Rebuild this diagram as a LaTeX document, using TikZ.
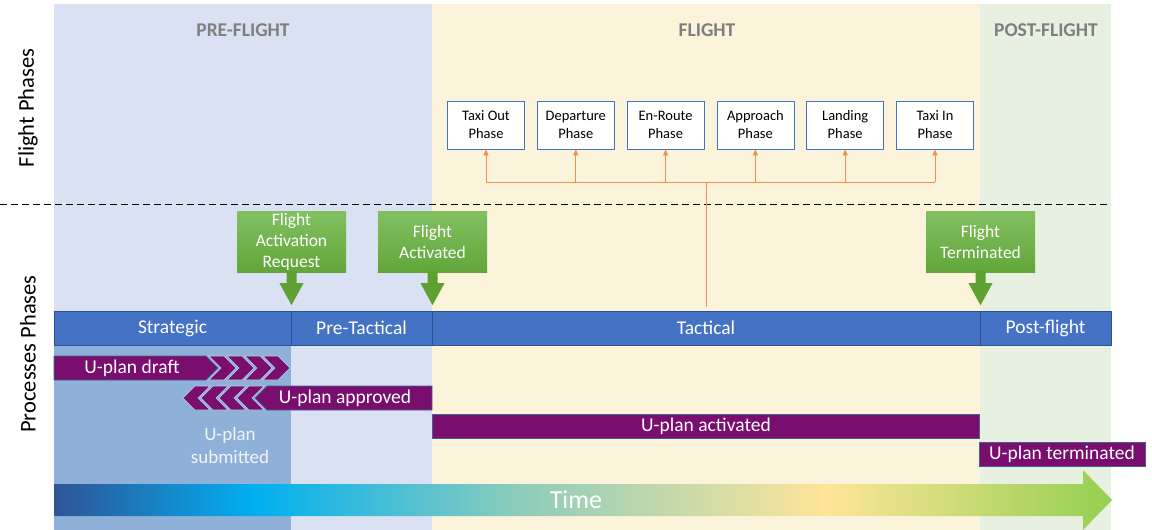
\documentclass[tikz,border=0pt]{standalone}
\usepackage{fontspec}
\setmainfont{Carlito}
\usetikzlibrary{arrows.meta,positioning,calc}
\definecolor{preBg}{HTML}{DAE1F2}
\definecolor{flightBg}{HTML}{FCF3DB}
\definecolor{postBg}{HTML}{E8F0E1}
\definecolor{stratBg}{HTML}{8FB0D8}
\definecolor{barBlue}{HTML}{4472C4}
\definecolor{barEdge}{HTML}{2F528F}
\definecolor{uplan}{HTML}{790E6F}
\definecolor{uplanEdge}{HTML}{41648F}
\definecolor{orangeLn}{HTML}{F0904E}
\definecolor{greenTop}{HTML}{82C061}
\definecolor{greenBot}{HTML}{62A63A}
\definecolor{greenHead}{HTML}{5FA033}
\definecolor{headGray}{HTML}{7F7F7F}
\definecolor{tA}{HTML}{2F5496}
\definecolor{tB}{HTML}{00B0F0}
\definecolor{tC}{HTML}{8DCCBB}
\definecolor{tD}{HTML}{FFE599}
\definecolor{tE}{HTML}{92D050}
\pgfdeclarehorizontalshading{timeshade}{100bp}{color(0bp)=(tA); color(25bp)=(tA);
  color(34.5bp)=(tB); color(47bp)=(tC); color(61.5bp)=(tD); color(75bp)=(tE); color(100bp)=(tE)}

\begin{document}
\begin{tikzpicture}[x=1pt, y=-1pt]
% STYLES
\tikzset{%
    phasebox/.style={%
        rectangle, draw=barBlue, line width=0.8pt, fill=white,
        minimum width=77pt, minimum height=48pt, inner sep=1pt,
        align=center, font=\fontsize{14.5}{18}\selectfont
    },
    procbar/.style={%
        rectangle, draw=barEdge, line width=0.6pt, fill=barBlue,
        minimum height=34pt, outer sep=0pt, text=white,
        font=\fontsize{19.5}{22}\selectfont
    },
    event/.style={%
        rectangle, top color=greenTop, bottom color=greenBot,
        minimum width=109pt, minimum height=61pt, align=center, inner sep=1pt,
        text=white, font=\fontsize{17.5}{21}\selectfont
    },
    uplanbar/.style={%
        fill=uplan, draw=uplanEdge, line width=0.6pt
    },
    uplantext/.style={text=white, font=\fontsize{19.5}{22}\selectfont},
    header/.style={text=headGray, font=\fontsize{19.5}{22}\selectfont\bfseries},
    sidelabel/.style={rotate=90, font=\fontsize{22.5}{26}\selectfont},
    link/.style={orangeLn, line width=0.8pt}
}
\useasboundingbox (0,0) rectangle (1152,530);
% Backgrounds
\fill[preBg] (54,4) rectangle (432,530);
\fill[flightBg] (432,4) rectangle (980,530);
\fill[postBg] (980,4) rectangle (1111,530);
\fill[stratBg] (54,345) rectangle (291,530);
% Headers and side labels
\node[header] (preflight) at (243,30) {PRE-FLIGHT};
\node[header] (flight) at (707,30) {FLIGHT};
\node[header] (postflight) at (1046,30) {POST-FLIGHT};
\node[sidelabel] (flightlbl) at (28,108) {Flight Phases};
\node[sidelabel] (proclbl) at (28,354) {Processes Phases};
\draw[dashed, line width=0.8pt, dash pattern=on 7pt off 4pt] (0,204) -- (1111,204);
% Flight phases
\node[phasebox] (taxiout) at (486,125) {Taxi Out\\Phase};
\node[phasebox, right=12pt of taxiout] (departure) {Departure\\Phase};
\node[phasebox, right=12pt of departure] (enroute) {En-Route\\Phase};
\node[phasebox, right=12pt of enroute] (approach) {Approach\\Phase};
\node[phasebox, right=12pt of approach] (landing) {Landing\\Phase};
\node[phasebox, right=12pt of landing] (taxiin) {Taxi In\\Phase};
% Process bar
\node[procbar, minimum width=237pt, anchor=west] (strategic) at (54,328) {Strategic};
\node[procbar, minimum width=141pt, right=0pt of strategic] (pretactical) {Pre-Tactical};
\node[procbar, minimum width=548pt, right=0pt of pretactical] (tactical) {Tactical};
\node[procbar, minimum width=131pt, right=0pt of tactical] (postbar) {Post-flight};
% Links to the flight phases
\coordinate (hub) at (tactical.north |- 0,182);
\draw[link] (tactical.north) ++(0,-4) -- (hub);
\draw[link] (taxiout.south |- hub) -- (taxiin.south |- hub);
\foreach \ph in {taxiout,departure,enroute,approach,landing,taxiin}
    \draw[link, -{Triangle[length=6pt,width=5pt]}] (\ph.south |- hub) -- (\ph.south);
% Events
\node[event] (actreq) at (291.5,241.5) {Flight\\Activation\\Request};
\node[event] (activated) at (432.5,241.5) {Flight\\Activated};
\node[event] (terminated) at (980.5,241.5) {Flight\\Terminated};
\foreach \ev in {actreq,activated,terminated}
    \fill[greenHead] (\ev.south) ++(-5,-1) -- ++(0,12) -- ++(-7,0) -- ++(12,22)
        -- ++(12,-22) -- ++(-7,0) -- ++(0,-12) -- cycle;
% U-plan states
\filldraw[uplanbar] (54,356) -- (206,356) -- (218,368) -- (206,380) -- (54,380) -- cycle;
\node[uplantext] (draft) at (132,368) {U-plan draft};
\foreach \t in {236,254,272,290}
    \filldraw[uplanbar, draw=stratBg!60!white] (\t-12,356) -- (\t,368) -- (\t-12,380)
        -- (\t-27,380) -- (\t-15,368) -- (\t-27,356) -- cycle;
\filldraw[uplanbar] (432,386) -- (267,386) -- (255,398) -- (267,410) -- (432,410) -- cycle;
\foreach \t in {183,201,219,237}
    \filldraw[uplanbar, draw=stratBg!60!white] (\t+12,386) -- (\t,398) -- (\t+12,410)
        -- (\t+27,410) -- (\t+15,398) -- (\t+27,386) -- cycle;
\node[uplantext] (approved) at (345,398) {U-plan approved};
\node[uplantext, text=white!88!stratBg, align=center, font=\fontsize{19}{23}\selectfont] (submitted) at (230,445) {U-plan\\submitted};
\filldraw[uplanbar] (432,414) rectangle (979,438);
\node[uplantext] (activatedlbl) at (706,426) {U-plan activated};
\filldraw[uplanbar] (979,442) rectangle (1145,466);
\node[uplantext] (terminatedlbl) at (1062,454) {U-plan terminated};
% Time arrow
\shade[shading=timeshade] (54,484) -- (1083,484) -- (1083,470) -- (1112,500)
    -- (1083,530) -- (1083,516) -- (54,516) -- cycle;
\node[text=white, font=\fontsize{26}{30}\selectfont] (time) at (576,500) {Time};
\end{tikzpicture}
\end{document}
